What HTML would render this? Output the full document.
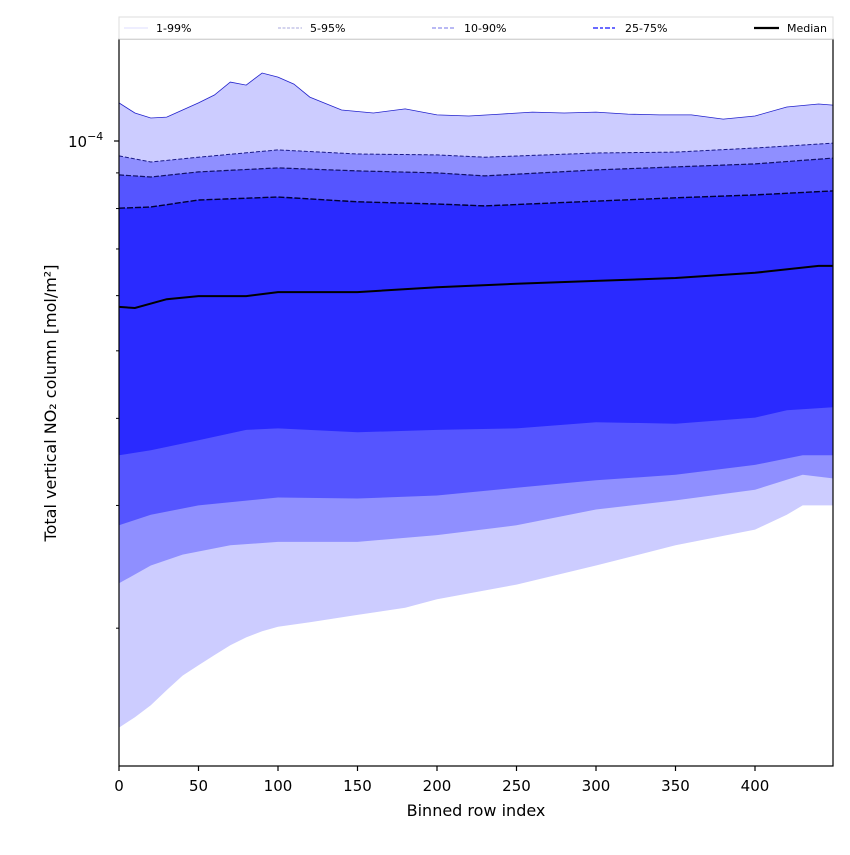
<!DOCTYPE html>
<html><head><meta charset="utf-8"><style>
body{margin:0;background:#fff;}
svg text{font-family:"DejaVu Sans","Liberation Sans",sans-serif;}
</style></head><body>
<svg id="chart" width="850" height="850" xmlns="http://www.w3.org/2000/svg">
<g id="bands"></g>
<g id="lines"></g>
<rect x="119" y="39" width="714" height="727" fill="none" stroke="#000" stroke-width="1.2"/>
<g id="axes"></g>
<text x="476" y="816" font-size="16" text-anchor="middle">Binned row index</text>
<text transform="translate(56,403) rotate(-90)" font-size="16" text-anchor="middle">Total vertical NO₂ column [mol/m²]</text>
<g>
<rect x="119" y="17" width="714" height="22" fill="#fff" stroke="#ddd"/>
<line x1="124" y1="28" x2="148" y2="28" stroke="#ddddff" stroke-width="1"/>
<text x="156" y="32" font-size="11">1-99%</text>
<line x1="278" y1="28" x2="302" y2="28" stroke="#aaaadd" stroke-width="1" stroke-dasharray="3,1.5"/>
<text x="310" y="32" font-size="11">5-95%</text>
<line x1="432" y1="28" x2="456" y2="28" stroke="#8f8fee" stroke-width="1.3" stroke-dasharray="4,2"/>
<text x="464" y="32" font-size="11">10-90%</text>
<line x1="593" y1="28" x2="617" y2="28" stroke="#5555ff" stroke-width="1.8" stroke-dasharray="5,2,3,2"/>
<text x="625" y="32" font-size="11">25-75%</text>
<line x1="754" y1="28" x2="779" y2="28" stroke="#000" stroke-width="2.2"/>
<text x="787" y="32" font-size="11">Median</text>
</g>
</svg>
<script>
// values in units of 1e-5 mol/m²
const p99X=[0,10,20,30,40,50,60,70,80,90,100,110,120,140,160,180,200,220,240,260,280,300,320,340,360,380,400,420,440,449];
const p99V=[11.34,10.97,10.79,10.82,11.08,11.34,11.64,12.15,12.03,12.52,12.35,12.07,11.56,11.08,10.97,11.12,10.90,10.86,10.93,11.00,10.97,11.00,10.93,10.90,10.90,10.75,10.86,11.19,11.30,11.26];
const bandX=[0,20,50,100,150,200,230,300,350,400,449];
const p95V=[9.52,9.33,9.48,9.71,9.58,9.55,9.48,9.61,9.64,9.77,9.93];
const p90V=[8.94,8.88,9.03,9.15,9.06,9.00,8.91,9.09,9.18,9.27,9.45];
const p75V=[8.01,8.04,8.23,8.31,8.18,8.12,8.07,8.20,8.29,8.37,8.48];
const medX=[0,10,30,50,80,100,150,200,250,300,350,400,440,449];
const medV=[5.78,5.76,5.93,5.99,5.99,6.07,6.07,6.17,6.24,6.30,6.36,6.47,6.62,6.62];
const p25X=[0,20,50,80,100,150,200,250,300,350,400,420,449];
const p25V=[3.54,3.60,3.72,3.85,3.87,3.82,3.85,3.87,3.95,3.93,4.01,4.11,4.15];
const p10X=[0,20,50,100,150,200,250,300,350,400,430,449];
const p10V=[2.81,2.91,3.00,3.08,3.07,3.10,3.18,3.26,3.32,3.43,3.54,3.54];
const p5X=[0,20,40,70,100,150,200,250,300,350,400,430,449];
const p5V=[2.32,2.46,2.55,2.63,2.66,2.66,2.72,2.81,2.96,3.05,3.16,3.32,3.28];
const p1X=[0,10,20,30,40,50,60,70,80,90,100,120,150,180,200,250,300,350,400,420,430,449];
const p1V=[1.44,1.49,1.55,1.63,1.71,1.77,1.83,1.89,1.94,1.98,2.01,2.04,2.09,2.14,2.20,2.31,2.46,2.63,2.77,2.91,3.00,3.00];
const xTicks=[0,50,100,150,200,250,300,350,400];
const yMinorTicks=[9,8,7,6,5,4,3,2];

const NS="http://www.w3.org/2000/svg";
const X0=119, XS=1.59, Y4=141, DEC=697;
const xs=v=>X0+v*XS;
const ys=v=>Y4-Math.log10(v/10)*DEC;
function pts(X,V){return X.map((x,i)=>xs(x).toFixed(1)+","+ys(V[i]).toFixed(1));}
function band(uX,uV,lX,lV,fill,name){
  const p=document.createElementNS(NS,"polygon");
  p.setAttribute("points",pts(uX,uV).concat(pts(lX,lV).reverse()).join(" "));
  p.setAttribute("fill",fill);
  
  
  document.getElementById("bands").appendChild(p);
}
band(p99X,p99V,p1X,p1V,"#ccccff","band-1-99");
band(bandX,p95V,p5X,p5V,"#8f8fff","band-5-95");
band(bandX,p90V,p10X,p10V,"#5555ff","band-10-90");
band(bandX,p75V,p25X,p25V,"#2a2aff","band-25-75");
function line(X,V,stroke,w,dash,name){
  const p=document.createElementNS(NS,"polyline");
  p.setAttribute("points",pts(X,V).join(" "));
  p.setAttribute("fill","none");p.setAttribute("stroke",stroke);p.setAttribute("stroke-width",w);
  if(dash)p.setAttribute("stroke-dasharray",dash);
  
  
  document.getElementById("lines").appendChild(p);
}
line(p99X,p99V,"#2222cc",0.8,null,"line-p99");
line(bandX,p95V,"#1a1a88",1,"4,2","line-p95");
line(bandX,p90V,"#111166",1.2,"5,2","line-p90");
line(bandX,p75V,"#000033",1.4,"6,2","line-p75");
line(medX,medV,"#000",2,null,"line-median");
const ax=document.getElementById("axes");
xTicks.forEach(t=>{
  const l=document.createElementNS(NS,"line");
  l.setAttribute("x1",xs(t));l.setAttribute("x2",xs(t));l.setAttribute("y1",766);l.setAttribute("y2",771);l.setAttribute("stroke","#000");l.setAttribute("stroke-width","1.2");
  
  
  ax.appendChild(l);
  const tx=document.createElementNS(NS,"text");
  tx.setAttribute("x",xs(t));tx.setAttribute("y",791);tx.setAttribute("font-size","15");tx.setAttribute("text-anchor","middle");
  tx.textContent=t;
  
  
  ax.appendChild(tx);
});
yMinorTicks.forEach(t=>{
  const l=document.createElementNS(NS,"line");
  l.setAttribute("x1",116);l.setAttribute("x2",119);l.setAttribute("y1",ys(t));l.setAttribute("y2",ys(t));l.setAttribute("stroke","#000");
  
  
  ax.appendChild(l);
});
const mt=document.createElementNS(NS,"line");
mt.setAttribute("x1",114);mt.setAttribute("x2",119);mt.setAttribute("y1",ys(10));mt.setAttribute("y2",ys(10));mt.setAttribute("stroke","#000");mt.setAttribute("stroke-width","1.2");


ax.appendChild(mt);
const yl=document.createElementNS(NS,"text");
yl.setAttribute("x",68);yl.setAttribute("y",147);yl.setAttribute("font-size","15");
yl.innerHTML='10<tspan dy="-7" font-size="11">−4</tspan>';


ax.appendChild(yl);
</script>
</body></html>
